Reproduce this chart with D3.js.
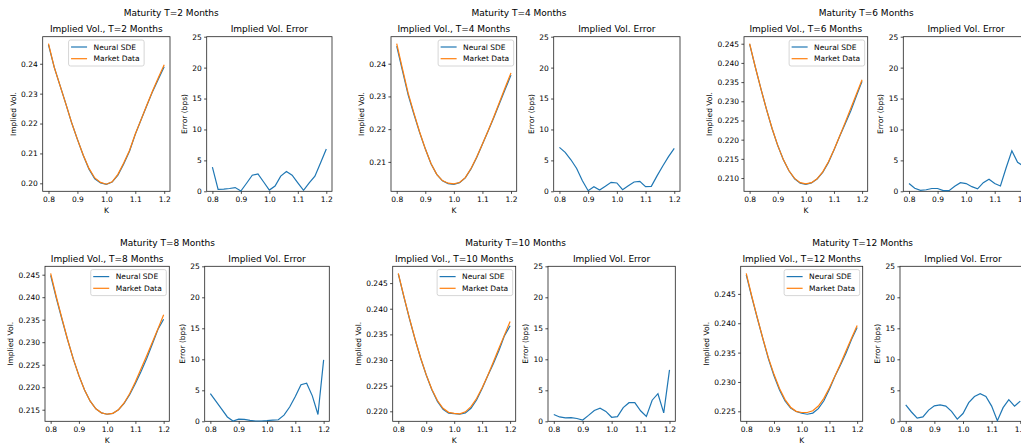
<!DOCTYPE html>
<html>
<head>
<meta charset="utf-8">
<script src="https://cdn.jsdelivr.net/npm/d3@7"></script>
<style>
  body { margin: 0; background: #fff; }
  svg { display: block; font-family: "DejaVu Sans", sans-serif; }
</style>
</head>
<body>
<svg id="chart" width="1021" height="448"></svg>
<script>
// strikes and maturities
const strikes = [0.80, 0.82, 0.84, 0.86, 0.88, 0.90, 0.92, 0.94, 0.96, 0.98, 1.00,
                 1.02, 1.04, 1.06, 1.08, 1.10, 1.12, 1.14, 1.16, 1.18, 1.20];
const maturities = [2, 4, 6, 8, 10, 12];
const seriesNames = ["Neural SDE", "Market Data"];

// market implied vols
const marketT2  = [0.2467, 0.2388, 0.2327, 0.2266, 0.2203, 0.2147, 0.2095, 0.2050, 0.2018, 0.2003, 0.1997,
                   0.2005, 0.2030, 0.2068, 0.2110, 0.2165, 0.2213, 0.2262, 0.2310, 0.2354, 0.2397];
const marketT4  = [0.2461, 0.2385, 0.2310, 0.2250, 0.2192, 0.2140, 0.2095, 0.2062, 0.2043, 0.2035, 0.2033,
                   0.2037, 0.2052, 0.2080, 0.2115, 0.2155, 0.2195, 0.2238, 0.2283, 0.2328, 0.2372];
const marketT6  = [0.2450, 0.2390, 0.2333, 0.2279, 0.2229, 0.2185, 0.2148, 0.2119, 0.2099, 0.2088, 0.2085,
                   0.2088, 0.2098, 0.2116, 0.2142, 0.2174, 0.2209, 0.2245, 0.2282, 0.2319, 0.2356];
const marketT8  = [0.2453, 0.2401, 0.2353, 0.2306, 0.2263, 0.2226, 0.2194, 0.2169, 0.2152, 0.2143, 0.2140,
                   0.2142, 0.2150, 0.2165, 0.2186, 0.2212, 0.2241, 0.2270, 0.2300, 0.2330, 0.2361];
const marketT10 = [0.2469, 0.2424, 0.2381, 0.2341, 0.2304, 0.2271, 0.2243, 0.2221, 0.2206, 0.2198, 0.2196,
                   0.2195, 0.2199, 0.2209, 0.2225, 0.2246, 0.2270, 0.2296, 0.2323, 0.2349, 0.2375];
const marketT12 = [0.2485, 0.2446, 0.2409, 0.2374, 0.2341, 0.2313, 0.2289, 0.2270, 0.2257, 0.2250, 0.2248,
                   0.2248, 0.2251, 0.2259, 0.2272, 0.2290, 0.2310, 0.2331, 0.2353, 0.2375, 0.2396];

// calibration error in bps
const errT2  = [3.9, 0.3, 0.35, 0.45, 0.6, 0.05, 1.3, 2.6, 2.8, 1.5, 0.2,
                0.85, 2.45, 3.2, 2.6, 1.35, 0.15, 1.35, 2.45, 4.6, 6.85];
const errT4  = [7.1, 6.3, 5.1, 3.7, 1.7, 0.1, 0.75, 0.2, 0.8, 1.45, 1.35,
                0.25, 0.9, 1.5, 1.6, 0.75, 0.8, 2.5, 4.1, 5.6, 6.95];
const errT6  = [1.25, 0.5, 0.15, 0.25, 0.45, 0.45, 0.1, 0.1, 0.8, 1.4, 1.25,
                0.75, 0.4, 1.4, 1.95, 1.25, 0.85, 3.8, 6.55, 4.7, 4.1];
const errT8  = [4.45, 3.2, 1.95, 0.7, 0.05, 0.35, 0.3, 0.15, 0.05, 0.05, 0.1,
                0.2, 0.25, 1.0, 2.3, 4.0, 5.9, 6.15, 4.1, 1.1, 9.9];
const errT10 = [1.1, 0.7, 0.55, 0.6, 0.45, 0.2, 0.95, 1.75, 2.1, 1.6, 0.65,
                0.75, 2.2, 3.0, 3.0, 1.7, 0.8, 3.4, 4.45, 1.35, 8.3];
const errT12 = [2.65, 1.5, 0.5, 0.7, 1.8, 2.5, 2.65, 2.45, 1.6, 0.35, 1.25,
                3.0, 4.0, 4.45, 4.0, 2.45, 0.1, 2.2, 3.5, 2.45, 3.25];

// tick values
const volTicksT2  = [0.20, 0.21, 0.22, 0.23, 0.24];
const volTicksT4  = [0.21, 0.22, 0.23, 0.24];
const volTicksT6  = [0.210, 0.215, 0.220, 0.225, 0.230, 0.235, 0.240, 0.245];
const volTicksT8  = [0.215, 0.220, 0.225, 0.230, 0.235, 0.240, 0.245];
const volTicksT10 = [0.220, 0.225, 0.230, 0.235, 0.240, 0.245];
const volTicksT12 = [0.225, 0.230, 0.235, 0.240, 0.245];
const errTicks = [0, 5, 10, 15, 20, 25];
const kTicks = [0.8, 0.9, 1.0, 1.1, 1.2];

const markets = [marketT2, marketT4, marketT6, marketT8, marketT10, marketT12];
const errors = [errT2, errT4, errT6, errT8, errT10, errT12];
const volTicks = [volTicksT2, volTicksT4, volTicksT6, volTicksT8, volTicksT10, volTicksT12];

// pixel layout of each maturity block
const layout = [
    {top: 36.7, bottom: 191.3, vol: [42.7, 170], err: [206.7, 332], sup: 171.3, legend: "center", fmt: ".2f"},
    {top: 36.7, bottom: 191.3, vol: [391, 516.7], err: [553.7, 680], sup: 519, legend: "right", fmt: ".2f"},
    {top: 36.7, bottom: 191.3, vol: [744, 867.7], err: [903.3, 1029], sup: 866.3, legend: "right", fmt: ".3f"},
    {top: 266.3, bottom: 421.3, vol: [45, 169.3], err: [204.7, 329.3], sup: 167.5, legend: "right", fmt: ".3f"},
    {top: 266.3, bottom: 421.3, vol: [392.7, 515.7], err: [548, 675.3], sup: 515.5, legend: "right", fmt: ".3f"},
    {top: 266.3, bottom: 421.3, vol: [740.7, 862.7], err: [900, 1026], sup: 862.7, legend: "right", fmt: ".3f"}
];

const colors = ["#1f77b4", "#ff7f0e"];
const svg = d3.select("#chart");
svg.append("rect").attr("width", 1021).attr("height", 448).attr("fill", "#fff");

function styleAxis(a) {
    a.select(".domain").remove();
    a.attr("font-family", "DejaVu Sans").attr("font-size", 7.5);
    a.selectAll(".tick line").attr("stroke", "#000").attr("stroke-width", 0.7);
    a.selectAll(".tick text").attr("fill", "#000");
}

function drawPanel(g, xr, L, yScale, ticks, fmt, title) {
    const x = d3.scaleLinear().domain([0.78, 1.22]).range(xr);

    g.append("g")
        .attr("transform", `translate(0,${L.bottom})`)
        .call(d3.axisBottom(x).tickValues(kTicks).tickFormat(d3.format(".1f"))
            .tickSize(2.6).tickPadding(2.4).tickSizeOuter(0))
        .call(styleAxis);

    const yAxis = g.append("g")
        .attr("transform", `translate(${xr[0]},0)`)
        .call(d3.axisLeft(yScale).tickValues(ticks).tickFormat(d3.format(fmt))
            .tickSize(2.6).tickPadding(2.4).tickSizeOuter(0))
        .call(styleAxis);

    g.append("rect")
        .attr("x", xr[0]).attr("y", L.top)
        .attr("width", xr[1] - xr[0]).attr("height", L.bottom - L.top)
        .attr("fill", "none").attr("stroke", "#222").attr("stroke-width", 0.8);

    g.append("text")
        .attr("x", (xr[0] + xr[1]) / 2).attr("y", L.top - 4.5)
        .attr("text-anchor", "middle").attr("font-size", 9)
        .text(title);

    // left edge of the tick labels, in svg coordinates
    const labelLeft = xr[0] + yAxis.node().getBBox().x;
    return {x, labelLeft};
}

maturities.forEach((T, gi) => {
    const L = layout[gi];
    const market = markets[gi];
    const err = errors[gi];
    // model curve sits off the market curve by the plotted error
    const neural = market.map((v, i) => v - err[i] / 1e4);
    const g = svg.append("g");

    g.append("text")
        .attr("x", L.sup).attr("y", L.top - 20.3)
        .attr("text-anchor", "middle").attr("font-size", 9)
        .text(`Maturity T=${T} Months`);

    // 1. implied vol panel
    const ext = d3.extent(market.concat(neural));
    const pad = (ext[1] - ext[0]) * 0.05;
    const yVol = d3.scaleLinear().domain([ext[0] - pad, ext[1] + pad]).range([L.bottom, L.top]);
    const p1 = drawPanel(g, L.vol, L, yVol, volTicks[gi], L.fmt, `Implied Vol., T=${T} Months`);

    [neural, market].forEach((s, si) => {
        g.append("path")
            .datum(s)
            .attr("fill", "none")
            .attr("stroke", colors[si])
            .attr("stroke-width", 1.2)
            .attr("d", d3.line().x((d, i) => p1.x(strikes[i])).y(d => yVol(d)));
    });

    g.append("text")
        .attr("transform", `translate(${p1.labelLeft - 8},${(L.top + L.bottom) / 2}) rotate(-90)`)
        .attr("text-anchor", "middle").attr("dy", "0.35em").attr("font-size", 7.5)
        .text("Implied Vol.");

    g.append("text")
        .attr("x", (L.vol[0] + L.vol[1]) / 2).attr("y", L.bottom + 22)
        .attr("text-anchor", "middle").attr("font-size", 7.5)
        .text("K");

    // legend
    const leg = g.append("g");
    const box = leg.append("rect")
        .attr("fill", "#fff").attr("fill-opacity", 0.8)
        .attr("stroke", "#ccc").attr("stroke-width", 0.8).attr("rx", 2);
    const labels = seriesNames.map((name, si) => {
        const cy = 7 + si * 11.7;
        leg.append("line")
            .attr("x1", 2.5).attr("x2", 18.5).attr("y1", cy).attr("y2", cy)
            .attr("stroke", colors[si]).attr("stroke-width", 1.2);
        return leg.append("text")
            .attr("x", 25).attr("y", cy).attr("dy", "0.35em")
            .attr("font-size", 7.5).text(name);
    });
    const textW = d3.max(labels, t => t.node().getComputedTextLength());
    const legW = textW + 29.5;
    box.attr("width", legW).attr("height", 26);
    const legX = L.legend === "center"
        ? (L.vol[0] + L.vol[1]) / 2 - legW / 2
        : L.vol[1] - 3 - legW;
    leg.attr("transform", `translate(${legX},${L.top + 3.3})`);

    // 2. error panel
    const yErr = d3.scaleLinear().domain([0, 25]).range([L.bottom, L.top]);
    const p2 = drawPanel(g, L.err, L, yErr, errTicks, "d", "Implied Vol. Error");

    g.append("path")
        .datum(err)
        .attr("fill", "none")
        .attr("stroke", colors[0])
        .attr("stroke-width", 1.2)
        .attr("d", d3.line().x((d, i) => p2.x(strikes[i])).y(d => yErr(d)));

    g.append("text")
        .attr("transform", `translate(${p2.labelLeft - 8},${(L.top + L.bottom) / 2}) rotate(-90)`)
        .attr("text-anchor", "middle").attr("dy", "0.35em").attr("font-size", 7.5)
        .text("Error (bps)");
});
</script>
</body>
</html>
